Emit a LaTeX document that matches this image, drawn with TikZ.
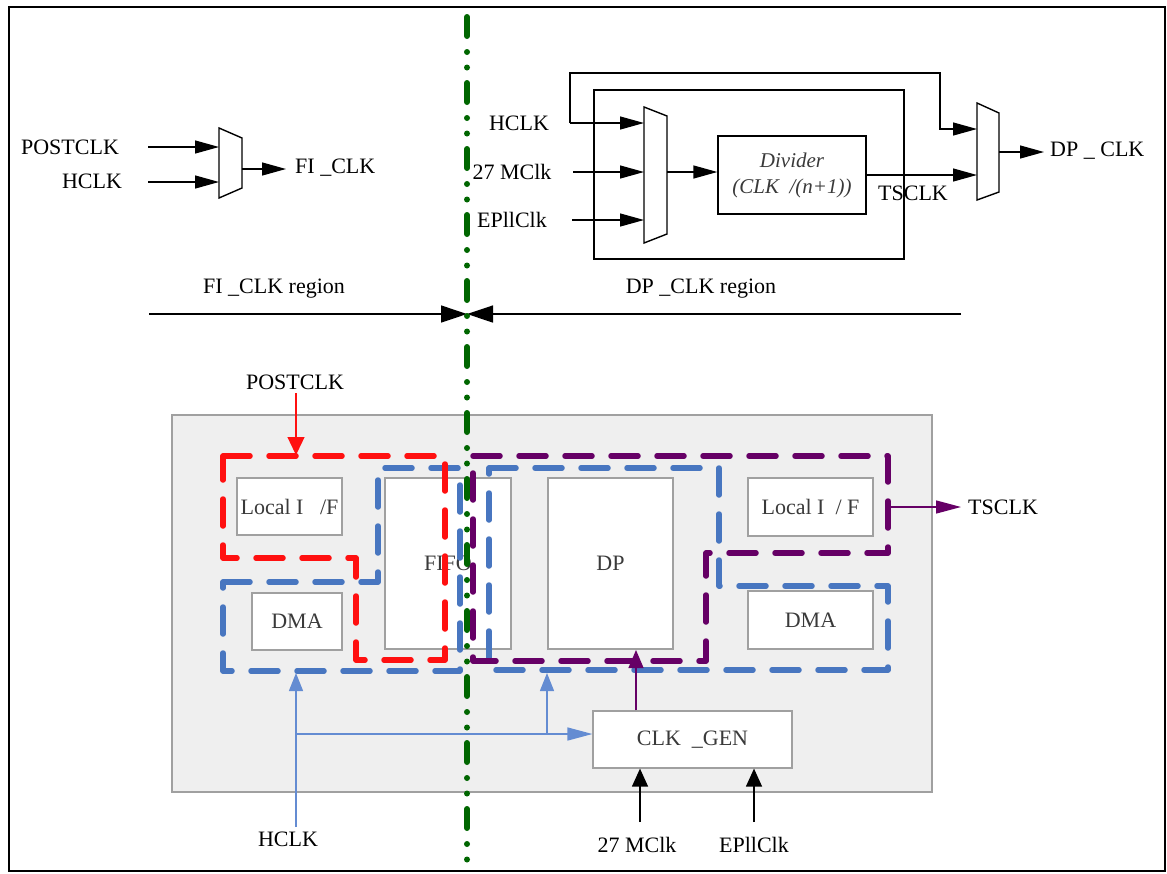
\documentclass[tikz,border=0pt]{standalone}
\usepackage{fontspec}
\setmainfont{Liberation Serif}
\usetikzlibrary{arrows.meta}
\definecolor{dgreen}{RGB}{0,102,0}
\definecolor{rred}{RGB}{255,16,16}
\definecolor{bblue}{RGB}{72,118,192}
\definecolor{bthinc}{RGB}{100,140,210}
\definecolor{ppurple}{RGB}{102,0,102}
\definecolor{boxgray}{RGB}{160,160,160}
\definecolor{bggray}{RGB}{239,239,239}
\definecolor{txtgray}{RGB}{58,58,58}
\begin{document}
\begin{tikzpicture}[x=1pt,y=-1pt,
  lbl/.style={font=\fontsize{22}{26}\selectfont, inner sep=0pt},
  blk/.style={font=\fontsize{22}{26}\selectfont, text=txtgray, draw=boxgray, line width=1.2pt, fill=white, inner sep=0pt},
  wire/.style={line width=1.3pt},
  arr/.style={wire, -{Triangle[length=24pt,width=13pt]}},
  arrs/.style={wire, -{Triangle[length=18pt,width=16pt]}},
  arrr/.style={wire, -{Triangle[length=26pt,width=17pt]}},
  mux/.style={line width=1.4pt, fill=white},
  bthin/.style={bthinc, line width=1.4pt},
  bup/.style={bthin, -{Triangle[length=18pt,width=14pt]}},
  bright/.style={bthin, -{Triangle[length=25pt,width=13pt]}},
  region/.style={line width=5.5pt, line cap=round, line join=round, dash pattern=on 27pt off 19pt},
  divline/.style={dgreen, line width=6pt, line cap=round, dash pattern=on 19pt off 16pt on 0pt off 15.5pt on 0pt off 15.5pt}
]
\useasboundingbox (0,0) rectangle (1167,873);
\draw[line width=2.5pt] (9,7) rectangle (1165,871);

% ---------- top left: FI_CLK mux ----------
\draw[mux] (219,128) -- (242,138) -- (242,188) -- (219,198) -- cycle;
\coordinate (m1a) at (219,147);
\coordinate (m1b) at (219,182);
\coordinate (m1o) at (242,169);
\coordinate (m1t) at (286,169);
\node[lbl] (postclk) at (70,147) {POSTCLK};
\node[lbl] (hclk1) at (92,181) {HCLK};
\node[lbl, anchor=west] (ficlk) at (295,168) {FI \_CLK};
\coordinate (s1a) at (148,147);
\coordinate (s1b) at (148,182);
\draw[arr] (s1a) -- (m1a);
\draw[arr] (s1b) -- (m1b);
\draw[arr] (m1o) -- (m1t);

% ---------- top right: DP_CLK ----------
\draw[wire] (594,90) rectangle (904,259);
\draw[mux] (644,107) -- (667,116) -- (667,234) -- (644,243) -- cycle;
\draw[mux] (977,103) -- (999,113) -- (999,192) -- (977,200) -- cycle;
\node[draw=black, line width=1.3pt, fill=white, text=txtgray, inner sep=0pt, minimum width=148pt, minimum height=78pt, align=center,
  font=\fontsize{21}{26}\selectfont\itshape] (div) at (792,175) {Divider\\(CLK\ \ /(n+1))};
\coordinate (m2a) at (644,123);
\coordinate (m2b) at (644,172);
\coordinate (m2c) at (644,220);
\coordinate (m2o) at (667,172);
\coordinate (m3a) at (977,129);
\coordinate (m3b) at (977,175);
\coordinate (m3o) at (999,152);
\coordinate (m3t) at (1044,152);
\coordinate (hsrc) at (570,123);
\coordinate (c27) at (573,172);
\coordinate (cepll) at (572,220);
\coordinate (fb1) at (570,73);
\coordinate (fb2) at (940,73);
\coordinate (fb3) at (940,129);
\coordinate (dvo) at (866,175);
\node[lbl] (hclk2) at (519,123) {HCLK};
\node[lbl] (mclk1) at (512,172) {27 MClk};
\node[lbl] (epll1) at (512,220) {EPllClk};
\node[lbl] (tsclk1) at (913,193) {TSCLK};
\node[lbl, anchor=west] (dpclk) at (1050,151) {DP \_ CLK};
\draw[arr] (hsrc) -- (m2a);
\draw[arr] (hsrc) -- (fb1) -- (fb2) -- (fb3) -- (m3a);
\draw[arr] (c27) -- (m2b);
\draw[arr] (cepll) -- (m2c);
\draw[arr] (m2o) -- (m2o -| div.west);
\draw[arr] (dvo) -- (m3b);
\draw[arr] (m3o) -- (m3t);

% ---------- region arrows ----------
\node[lbl] (fireg) at (274,289) {FI \_CLK region};
\node[lbl] (dpreg) at (701,289) {DP \_CLK region};
\coordinate (rl) at (149,314);
\coordinate (rr) at (961,314);
\coordinate (rm) at (467,314);
\draw[arrr] (rl) -- (rm);
\draw[arrr] (rr) -- (rm);

% ---------- bottom block ----------
\draw[boxgray, fill=bggray, line width=1.4pt] (172,415) rectangle (932,792);
\node[blk, minimum width=105pt, minimum height=57pt] (lif1) at (289.5,506.5) {Local I\ \ \ /F};
\node[blk, minimum width=90pt, minimum height=57pt] (dma1) at (297,621.5) {DMA\hspace{8pt}};
\node[blk, minimum width=126pt, minimum height=171pt] (fifo) at (448,563.5) {FIFO};
\node[blk, minimum width=125pt, minimum height=171pt] (dp) at (610.5,563.5) {DP};
\node[blk, minimum width=125pt, minimum height=58pt] (lif2) at (810.5,507) {Local I\ \ / F};
\node[blk, minimum width=125pt, minimum height=58pt] (dma2) at (810.5,620) {DMA\hspace{8pt}};
\node[blk, minimum width=199pt, minimum height=57pt] (clkgen) at (692.5,739.5) {CLK\ \ \_GEN};

% dashed regions
\draw[region, bblue] (223,582) -- (378,582) -- (378,468) -- (460,468) -- (460,671) -- (223,671) -- cycle;
\draw[region, rred] (223,456) -- (445,456) -- (445,660) -- (356,660) -- (356,558) -- (223,558) -- cycle;
\draw[region, bblue] (489,468) -- (719,468) -- (719,586) -- (888,586) -- (888,670) -- (489,670) -- cycle;
\draw[region, ppurple] (473,456) -- (888,456) -- (888,553) -- (706,553) -- (706,661) -- (473,661) -- cycle;

% labels and arrows of bottom block
\node[lbl] (postclk2) at (295,382) {POSTCLK};
\coordinate (pcs) at (296,393);
\coordinate (pct) at (296,455);
\draw[rred, wire, -{Triangle[length=18pt,width=17pt]}] (pcs) -- (pct);

\node[lbl, anchor=west] (tsclk2) at (968,507) {TSCLK};
\coordinate (tsl) at (888,507);
\coordinate (tst) at (961,507);
\draw[ppurple, wire, -{Triangle[length=25pt,width=13pt]}] (tsl) -- (tst);

\coordinate (dpin) at (636,650);
\draw[ppurple, wire, -{Triangle[length=18pt,width=15pt]}] (clkgen.north -| dpin) -- (dpin);

\node[lbl] (hclk3) at (288,839) {HCLK};
\coordinate (hb0) at (296,827);
\coordinate (hb1) at (296,734);
\coordinate (hb2) at (296,673);
\coordinate (hb3) at (547,734);
\coordinate (hb4) at (547,673);
\draw[bup] (hb0) -- (hb2);
\draw[bright] (hb1) -- (clkgen.west |- hb1);
\draw[bup] (hb3) -- (hb4);

\node[lbl] (mclk2) at (637,845) {27 MClk};
\node[lbl] (epll2) at (754,845) {EPllClk};
\coordinate (mb) at (640,822);
\coordinate (eb) at (754,822);
\draw[arrs] (mb) -- (clkgen.south -| mb);
\draw[arrs] (eb) -- (clkgen.south -| eb);

% ---------- green divider ----------
\draw[divline] (467,17) -- (467,862);
\end{tikzpicture}
\end{document}
